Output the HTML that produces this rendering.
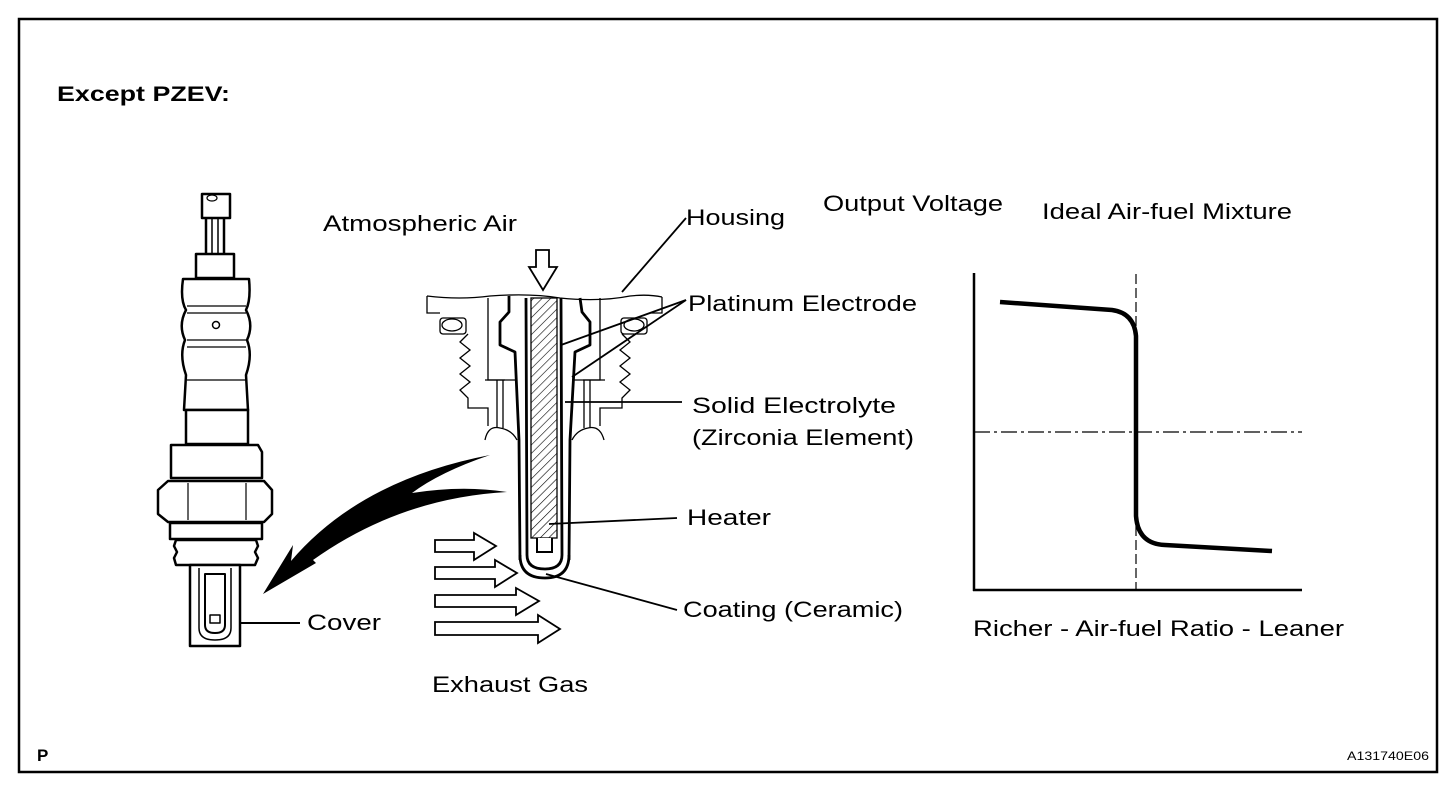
<!DOCTYPE html>
<html><head><meta charset="utf-8"><style>
html,body{margin:0;padding:0;background:#fff}
svg{display:block}
text{font-family:"Liberation Sans",Arial,sans-serif;fill:#000}
</style></head><body>
<svg width="1456" height="786" viewBox="0 0 1456 786" xmlns="http://www.w3.org/2000/svg">
<defs>
<pattern id="hatch" patternUnits="userSpaceOnUse" width="6" height="6" patternTransform="rotate(45)">
<line x1="0" y1="0" x2="0" y2="6" stroke="#000" stroke-width="1.2"/>
</pattern>
</defs>
<rect x="19" y="19" width="1418" height="753" fill="none" stroke="#000" stroke-width="2.5"/>

<text x="57" y="101" font-size="21" font-weight="bold" textLength="173" lengthAdjust="spacingAndGlyphs">Except PZEV:</text>
<text x="323" y="231" font-size="22" textLength="194" lengthAdjust="spacingAndGlyphs">Atmospheric Air</text>
<text x="686" y="225" font-size="22" textLength="99" lengthAdjust="spacingAndGlyphs">Housing</text>
<text x="823" y="211" font-size="22" textLength="180" lengthAdjust="spacingAndGlyphs">Output Voltage</text>
<text x="1042" y="219" font-size="22" textLength="250" lengthAdjust="spacingAndGlyphs">Ideal Air-fuel Mixture</text>
<text x="688" y="311" font-size="22" textLength="229" lengthAdjust="spacingAndGlyphs">Platinum Electrode</text>
<text x="692" y="413" font-size="22" textLength="204" lengthAdjust="spacingAndGlyphs">Solid Electrolyte</text>
<text x="692" y="445" font-size="22" textLength="222" lengthAdjust="spacingAndGlyphs">(Zirconia Element)</text>
<text x="687" y="525" font-size="22" textLength="84" lengthAdjust="spacingAndGlyphs">Heater</text>
<text x="683" y="617" font-size="22" textLength="220" lengthAdjust="spacingAndGlyphs">Coating (Ceramic)</text>
<text x="307" y="630" font-size="22" textLength="74" lengthAdjust="spacingAndGlyphs">Cover</text>
<text x="432" y="692" font-size="22" textLength="156" lengthAdjust="spacingAndGlyphs">Exhaust Gas</text>
<text x="973" y="636" font-size="22" textLength="371" lengthAdjust="spacingAndGlyphs">Richer - Air-fuel Ratio - Leaner</text>
<text x="37" y="761" font-size="17" font-weight="bold">P</text>
<text x="1347" y="760" font-size="12" textLength="82" lengthAdjust="spacingAndGlyphs">A131740E06</text>

<!-- Graph -->
<g fill="none" stroke="#000">
<line x1="974" y1="273" x2="974" y2="591" stroke-width="2.5"/>
<line x1="973" y1="590" x2="1302" y2="590" stroke-width="2.5"/>
<line x1="1136" y1="274" x2="1136" y2="590" stroke-width="1.2" stroke-dasharray="10,4"/>
<line x1="974" y1="432" x2="1302" y2="432" stroke-width="1.2" stroke-dasharray="16,4,3,4"/>
<path d="M1000,302 L1112,310 Q1134,313 1136,336 L1136,516 Q1138,544 1165,545 L1272,551" stroke-width="4.5"/>
</g>

<!-- Left sensor -->
<g fill="#fff" stroke="#000" stroke-width="2.5" stroke-linejoin="round">
<rect x="202" y="194" width="28" height="24"/>
<ellipse cx="212" cy="198" rx="5" ry="3" stroke-width="1.2"/>
<line x1="206" y1="218" x2="206" y2="253"/>
<line x1="212" y1="218" x2="212" y2="253" stroke-width="1.5"/>
<line x1="218" y1="218" x2="218" y2="253" stroke-width="1.5"/>
<line x1="224" y1="218" x2="224" y2="253"/>
<rect x="196" y="254" width="38" height="24"/>
<path d="M183,279 L249,279 Q251,300 246,310 Q254,325 247,340 Q253,355 246,375 L248,410 L184,410 L186,375 Q179,355 185,340 Q178,325 186,310 Q180,300 183,279 Z"/>
<line x1="187" y1="306" x2="246" y2="306" stroke-width="1.2"/>
<line x1="187" y1="313" x2="246" y2="313" stroke-width="1.2"/>
<line x1="187" y1="340" x2="246" y2="340" stroke-width="1.2"/>
<line x1="187" y1="347" x2="246" y2="347" stroke-width="1.2"/>
<line x1="187" y1="380" x2="246" y2="380" stroke-width="1.2"/>
<circle cx="216" cy="325" r="3.5" stroke-width="1.5"/>
<rect x="186" y="410" width="62" height="34"/>
<path d="M171,445 L258,445 L262,452 L262,478 L171,478 Z"/>
<path d="M158,490 L168,481 L264,481 L272,490 L272,514 L264,522 L168,522 L158,514 Z"/>
<line x1="188" y1="483" x2="188" y2="520" stroke-width="1.2"/>
<line x1="246" y1="483" x2="246" y2="520" stroke-width="1.2"/>
<rect x="170" y="523" width="92" height="16"/>
<path d="M176,540 L256,540 L258,546 L255,552 L258,558 L255,565 L176,565 L174,558 L177,552 L174,546 Z"/>
<rect x="190" y="565" width="50" height="81"/>
<path d="M199,568 L199,628 Q199,640 215,640 Q231,640 231,628 L231,568" stroke-width="1.5"/>
<path d="M205,574 L205,625 Q205,633 215,633 Q225,633 225,625 L225,574 Z" stroke-width="2"/>
<rect x="210" y="615" width="10" height="8" stroke-width="1.5"/>
</g>
<line x1="240" y1="623" x2="300" y2="623" stroke="#000" stroke-width="2"/>

<!-- Curved black arrow -->
<path d="M263,594 L293,545 L291,561 Q360,480 490,455 Q440,472 412,493 Q462,485 507,492 Q400,498 313,560 L316,563 Z" fill="#000"/>

<!-- Exhaust arrows -->
<g fill="#fff" stroke="#000" stroke-width="1.8">
<path d="M435,540 L474,540 L474,533 L496,546 L474,560 L474,552 L435,552 Z"/>
<path d="M435,567 L495,567 L495,560 L517,573 L495,587 L495,579 L435,579 Z"/>
<path d="M435,595 L516,595 L516,588 L539,601 L516,615 L516,607 L435,607 Z"/>
<path d="M435,622 L538,622 L538,615 L560,629 L538,643 L538,635 L435,635 Z"/>
</g>

<!-- Down arrow -->
<path d="M536,250 L549,250 L549,267 L557,267 L543,290 L529,267 L536,267 Z" fill="#fff" stroke="#000" stroke-width="1.8"/>

<!-- Housing cross-section -->
<g fill="none" stroke="#000" stroke-width="1.3">
<path d="M427,296 Q460,300 490,296 Q530,293 560,298 Q600,302 630,296 Q648,294 662,297"/>
<path d="M427,296 L427,313 L440,313"/>
<path d="M662,297 L662,313 L650,313"/>
<rect x="440" y="318" width="26" height="16" rx="3"/>
<ellipse cx="452" cy="325" rx="10" ry="6"/>
<rect x="621" y="318" width="26" height="16" rx="3"/>
<ellipse cx="634" cy="325" rx="10" ry="6"/>
<path d="M468,334 L460,342 L470,350 L460,358 L470,366 L460,374 L470,382 L460,390 L468,398 L468,408 L488,408 L488,426"/>
<path d="M622,334 L630,342 L620,350 L630,358 L620,366 L630,374 L620,382 L630,390 L622,398 L622,408 L600,408 L600,426"/>
<path d="M488,298 L488,380 L505,380"/>
<path d="M600,298 L600,380 L583,380"/>
<path d="M485,380 L517,380 M572,380 L605,380"/>
<path d="M497,380 L497,428 M503,380 L503,428"/>
<path d="M590,380 L590,428 M584,380 L584,428"/>
<path d="M485,440 Q488,425 500,428 Q512,430 517,440"/>
<path d="M572,440 Q577,430 588,428 Q600,425 604,440"/>
</g>
<g fill="none" stroke="#000" stroke-width="2.8" stroke-linejoin="round">
<path d="M509,296 L509,312 L500,322 L500,345 L515,352 L519,440 L520,560"/>
<path d="M580,298 L582,312 L590,322 L590,345 L575,352 L570,440 L569,560"/>
<path d="M520,555 Q520,578 545,578 Q569,578 569,555"/>
<path d="M526,298 L527,555 Q527,569 545,569 Q562,569 562,555 L561,298"/>
</g>
<rect x="531" y="298" width="26" height="240" fill="url(#hatch)" stroke="#000" stroke-width="1.3"/>
<path d="M537,538 L537,552 L552,552 L552,538" fill="#fff" stroke="#000" stroke-width="2"/>

<!-- Leaders -->
<g stroke="#000" stroke-width="1.8">
<line x1="686" y1="218" x2="622" y2="292"/>
<line x1="686" y1="300" x2="561" y2="345"/>
<line x1="686" y1="300" x2="572" y2="377"/>
<line x1="565" y1="402" x2="682" y2="402"/>
<line x1="549" y1="524" x2="677" y2="518"/>
<line x1="546" y1="574" x2="677" y2="610"/>
</g>
</svg>
</body></html>
